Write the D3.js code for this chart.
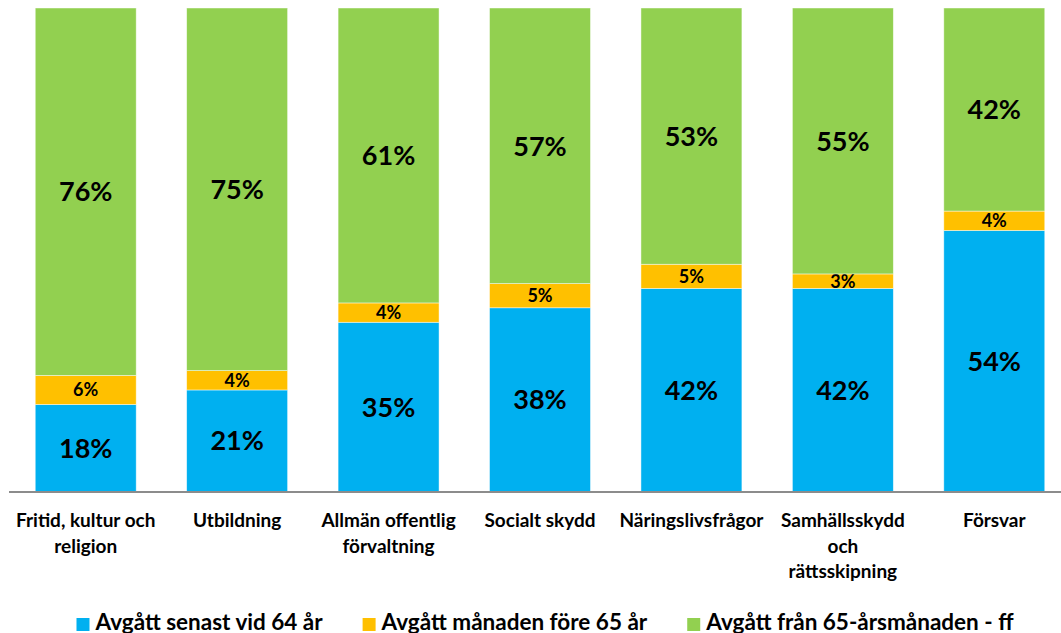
<!DOCTYPE html>
<html>
<head>
<meta charset="utf-8">
<script src="https://cdn.jsdelivr.net/npm/d3@7"></script>
<style>
  body { margin: 0; background: #fff; }
  svg { display: block; font-family: Lato, "Open Sans", sans-serif; font-weight: bold; }
</style>
</head>
<body>
<div id="chart"></div>
<script>
// categories (line breaks as in the original axis labels)
var categories = [
    "Fritid, kultur och\nreligion",
    "Utbildning",
    "Allmän offentlig\nförvaltning",
    "Socialt skydd",
    "Näringslivsfrågor",
    "Samhällsskydd\noch\nrättsskipning",
    "Försvar"
];

// series values, percent
var senast64 = [18, 21, 35, 38, 42, 42, 54];
var fore65 = [6, 4, 4, 5, 5, 3, 4];
var fran65 = [76, 75, 61, 57, 53, 55, 42];

var seriesNames = ["Avgått senast vid 64 år", "Avgått månaden före 65 år", "Avgått från 65-årsmånaden - ff"];
var seriesColors = ["#00b0f0", "#ffc000", "#92d050"];

var width = 1061, height = 633;

var svg = d3.select("#chart").append("svg")
    .attr("width", width)
    .attr("height", height);

// build rows for the stack
var rows = categories.map(function (c, i) {
    return { cat: c, s0: senast64[i], s1: fore65[i], s2: fran65[i] };
});
var stacked = d3.stack().keys(["s0", "s1", "s2"])(rows);

// scales
var x = d3.scaleBand().domain(categories).range([10, 1070]).paddingInner(1 / 3).paddingOuter(1 / 6);
var y = d3.scaleLinear().domain([0, 100]).range([491.5, 8]);

// bars
var layers = svg.selectAll(".layer")
    .data(stacked)
    .enter().append("g")
        .attr("class", "layer")
        .attr("fill", function (d, i) { return seriesColors[i]; });

layers.selectAll("rect")
    .data(function (d) { return d; })
    .enter().append("rect")
        .attr("x", function (d) { return x(d.data.cat); })
        .attr("width", x.bandwidth())
        .attr("y", function (d) { return y(d[1]); })
        .attr("height", function (d) { return y(d[0]) - y(d[1]); })
        .attr("stroke", "#ffffff")
        .attr("stroke-opacity", 0.6)
        .attr("stroke-width", 0.75);

// value labels
layers.each(function (layer, li) {
    d3.select(this).selectAll("text")
        .data(layer)
        .enter().append("text")
            .attr("x", function (d) { return x(d.data.cat) + x.bandwidth() / 2; })
            .attr("y", function (d) { return (y(d[0]) + y(d[1])) / 2; })
            .attr("dy", "0.36em")
            .attr("text-anchor", "middle")
            .attr("fill", "#000")
            .style("font-size", li === 1 ? "18px" : "27px")
            .text(function (d) { return (d[1] - d[0]) + "%"; });
});

// x axis line
svg.append("line")
    .attr("x1", 9).attr("x2", width)
    .attr("y1", 492).attr("y2", 492)
    .attr("stroke", "#8c8c8c")
    .attr("stroke-width", 2);

// category labels
var catLabels = svg.selectAll(".cat")
    .data(categories)
    .enter().append("text")
        .attr("class", "cat")
        .attr("text-anchor", "middle")
        .attr("fill", "#000")
        .style("font-size", "19px")
        .attr("transform", function (d) { return "translate(" + (x(d) + x.bandwidth() / 2) + ",527)"; });

catLabels.selectAll("tspan")
    .data(function (d) { return d.split("\n"); })
    .enter().append("tspan")
        .attr("x", 0)
        .attr("y", function (d, i) { return i * 25.5; })
        .text(function (d) { return d; });

// legend
var legend = svg.append("g").attr("class", "legend");
var lx = 0;
seriesNames.forEach(function (name, i) {
    var item = legend.append("g").attr("transform", "translate(" + lx + ",0)");
    item.append("rect")
        .attr("x", 0).attr("y", 618)
        .attr("width", 13).attr("height", 13)
        .attr("fill", seriesColors[i]);
    var t = item.append("text")
        .attr("x", 19).attr("y", 629.5)
        .attr("fill", "#000")
        .style("font-size", "22.5px")
        .text(name);
    lx += 19 + t.node().getComputedTextLength() + 40;
});
var legendWidth = lx - 40;
legend.attr("transform", "translate(" + (545 - legendWidth / 2) + ",0)");
</script>
</body>
</html>
